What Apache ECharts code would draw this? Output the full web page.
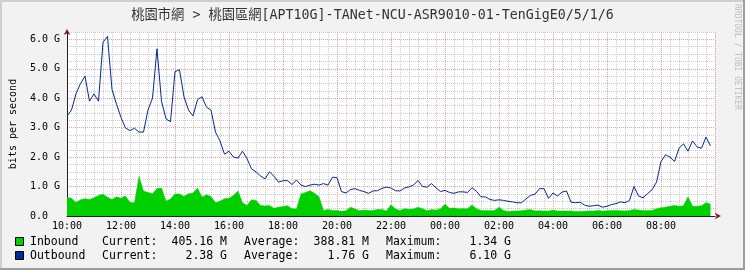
<!DOCTYPE html>
<html><head><meta charset="utf-8">
<script src="https://cdn.jsdelivr.net/npm/echarts@6/dist/echarts.min.js"></script>
<style>html,body{margin:0;padding:0;background:#F2F2F2}#c{width:745px;height:270px}</style>
</head><body><div id="c"></div>
<script>
const chartTitle = '桃園市網 > 桃園區網[APT10G]-TANet-NCU-ASR9010-01-TenGigE0/5/1/6';
const xTickLabels = ['10:00','12:00','14:00','16:00','18:00','20:00','22:00','00:00','02:00','04:00','06:00','08:00'];
const yTickLabels = ['0.0  ','1.0 G','2.0 G','3.0 G','4.0 G','5.0 G','6.0 G'];
const stepMinutes = 10;
const yAxisName = 'bits per second';
// values in G bits per second, one every 10 minutes from 10:00
const inbound = [
0.64,0.6,0.46,0.55,0.59,0.56,0.62,0.7,0.74,0.64,0.56,0.65,
0.6,0.68,0.46,0.45,1.34,0.85,0.8,0.76,0.93,0.95,0.5,0.58,
0.75,0.75,0.66,0.76,0.78,0.95,0.64,0.72,0.66,0.45,0.5,0.59,
0.6,0.7,0.85,0.45,0.36,0.55,0.53,0.36,0.34,0.36,0.26,0.3,
0.32,0.35,0.25,0.24,0.75,0.8,0.86,0.77,0.65,0.19,0.22,0.19,
0.19,0.16,0.18,0.3,0.24,0.18,0.2,0.19,0.19,0.22,0.22,0.17,
0.38,0.24,0.19,0.25,0.23,0.24,0.3,0.25,0.18,0.22,0.2,0.25,
0.4,0.26,0.27,0.25,0.25,0.25,0.37,0.25,0.19,0.19,0.18,0.19,
0.3,0.19,0.15,0.17,0.17,0.18,0.2,0.22,0.17,0.18,0.17,0.17,
0.2,0.17,0.17,0.17,0.17,0.15,0.15,0.16,0.17,0.17,0.19,0.17,
0.18,0.19,0.19,0.18,0.17,0.19,0.22,0.2,0.19,0.19,0.19,0.25,
0.28,0.3,0.33,0.36,0.33,0.35,0.65,0.33,0.33,0.35,0.45,0.41];
const outbound = [
3.39,3.6,4.15,4.5,4.75,3.9,4.15,3.9,5.9,6.1,4.3,3.8,
3.35,2.99,2.9,2.98,2.85,2.85,3.6,4.0,5.68,3.9,3.3,3.2,
4.9,4.97,4.05,3.6,3.4,3.95,4.05,3.7,3.6,2.85,2.55,2.1,
2.2,2.0,1.97,2.2,1.95,1.6,1.5,1.36,1.26,1.5,1.35,1.15,
1.2,1.2,1.07,1.22,1.05,1.0,1.05,1.08,1.05,1.1,1.05,1.32,
1.3,0.83,0.78,0.9,0.93,0.87,0.83,0.77,0.85,0.86,0.94,0.98,
0.95,0.86,0.85,0.95,0.99,1.05,1.21,1.0,0.98,1.1,0.96,0.83,
0.87,0.8,0.77,0.82,0.82,0.8,0.96,0.84,0.65,0.65,0.56,0.53,
0.55,0.53,0.5,0.48,0.45,0.45,0.58,0.7,0.74,0.93,0.93,0.6,
0.78,0.68,0.81,0.85,0.47,0.45,0.47,0.37,0.33,0.35,0.37,0.3,
0.33,0.39,0.42,0.48,0.45,0.53,1.0,0.68,0.62,0.76,0.89,1.15,
1.85,2.08,2.0,1.85,2.3,2.45,2.2,2.55,2.35,2.3,2.68,2.38];
const legendNames = ['Inbound','Outbound'];
const legendColors = ['#00CF00','#002A97'];
const legendCurrent = ['405.16 M','2.38 G'];
const legendAverage = ['388.81 M','1.76 G'];
const legendMaximum = ['1.34 G','6.10 G'];
const watermark = 'RRDTOOL / TOBI OETIKER';

const MONO = '"DejaVu Sans Mono", "Noto Sans CJK TC", monospace';
const minorGrid = 'rgba(143,143,143,0.45)';
const majorGrid = 'rgba(222,79,79,0.55)';
const arrowColor = '#801F1F';
const inData = inbound.map((v,i)=>[i*stepMinutes, v]);
const outData = outbound.map((v,i)=>[i*stepMinutes, v]);

const graphic = [
  {type:'rect', shape:{x:0,y:0,width:745,height:2}, style:{fill:'#CFCFCF'}, silent:true},
  {type:'rect', shape:{x:0,y:0,width:2,height:270}, style:{fill:'#CFCFCF'}, silent:true},
  {type:'rect', shape:{x:0,y:268,width:745,height:2}, style:{fill:'#9E9E9E'}, silent:true},
  {type:'rect', shape:{x:743,y:0,width:2,height:270}, style:{fill:'#9E9E9E'}, silent:true},
  {type:'text', x:741, y:4, rotation:-Math.PI/2, style:{text:watermark, fill:'#BDBDBD', font:'8px "DejaVu Sans Mono"', textAlign:'left', textVerticalAlign:'top'}, silent:true}
];
legendNames.forEach((n,k)=>{
  const cy = 242 + k*14;
  const f = '11.5px "DejaVu Sans Mono"';
  graphic.push({type:'rect', shape:{x:15.5,y:cy-4.5,width:8,height:8}, style:{fill:legendColors[k], stroke:'#000', lineWidth:1}});
  graphic.push({type:'text', x:30, y:cy, style:{text:n, font:f, fill:'#000', textVerticalAlign:'middle'}});
  graphic.push({type:'text', x:102, y:cy, style:{text:'Current:', font:f, fill:'#000', textVerticalAlign:'middle'}});
  graphic.push({type:'text', x:227, y:cy, style:{text:legendCurrent[k], font:f, fill:'#000', textAlign:'right', textVerticalAlign:'middle'}});
  graphic.push({type:'text', x:244, y:cy, style:{text:'Average:', font:f, fill:'#000', textVerticalAlign:'middle'}});
  graphic.push({type:'text', x:369, y:cy, style:{text:legendAverage[k], font:f, fill:'#000', textAlign:'right', textVerticalAlign:'middle'}});
  graphic.push({type:'text', x:386, y:cy, style:{text:'Maximum:', font:f, fill:'#000', textVerticalAlign:'middle'}});
  graphic.push({type:'text', x:511, y:cy, style:{text:legendMaximum[k], font:f, fill:'#000', textAlign:'right', textVerticalAlign:'middle'}});
});

const arrowOnlyAxis = (extra) => Object.assign({
  type:'value', gridIndex:0,
  axisLine:{show:true, onZero:false, lineStyle:{color:arrowColor, width:0}, symbol:['none','arrow'], symbolSize:[5,6]},
  axisTick:{show:false}, axisLabel:{show:false}, splitLine:{show:false}
}, extra);

const chart = echarts.init(document.getElementById('c'), null, {renderer:'canvas', width:745, height:270});
chart.setOption({
  backgroundColor:'#F2F2F2',
  animation:false,
  title:{text:chartTitle, left:'center', top:4, textStyle:{fontFamily:MONO, fontSize:13.3, fontWeight:'normal', color:'#333'}},
  grid:{left:64, top:32, width:651, height:184, show:true, backgroundColor:'#FFFFFF', borderWidth:0},
  xAxis:[{type:'value', min:0, max:1440, interval:20, position:'bottom',
    axisLine:{show:true, onZero:false, lineStyle:{color:'#1F1F1F', width:1}},
    axisTick:{show:false},
    axisLabel:{formatter:v => (v%120===0 && v<1440) ? xTickLabels[v/120] : '', fontFamily:MONO, fontSize:10, color:'#000', margin:5},
    splitLine:{show:true, lineStyle:{color:[majorGrid,minorGrid,minorGrid,minorGrid,minorGrid,minorGrid], type:[1,1], width:1}}
  }, arrowOnlyAxis({min:0, max:1440, position:'bottom', axisLine:{show:true, onZero:false, lineStyle:{color:arrowColor, width:0}, symbol:['none','arrow'], symbolSize:[5,6], symbolOffset:[0,6]}})],
  yAxis:[{type:'value', min:0, max:6.25, interval:0.25, position:'left',
    name:yAxisName, nameLocation:'middle', nameGap:49, nameRotate:90,
    nameTextStyle:{fontFamily:MONO, fontSize:10, color:'#000'},
    axisLine:{show:true, onZero:false, lineStyle:{color:'#1F1F1F', width:1}},
    axisTick:{show:false},
    axisLabel:{formatter:v => Math.abs(v-Math.round(v))<1e-6 ? (yTickLabels[Math.round(v)]||'') : '', fontFamily:MONO, fontSize:10, color:'#000', margin:7},
    splitLine:{show:true, lineStyle:{color:[majorGrid,minorGrid,minorGrid,minorGrid], type:[1,1], width:1}}
  }, arrowOnlyAxis({min:0, max:6.25, position:'left', axisLine:{show:true, onZero:false, lineStyle:{color:arrowColor, width:0}, symbol:['none','arrow'], symbolSize:[5,6], symbolOffset:[0,3]}})],
  series:[
    {type:'line', name:legendNames[0], data:inData, showSymbol:false, symbol:'none', xAxisIndex:0, yAxisIndex:0,
     lineStyle:{width:0.5, color:legendColors[0]}, itemStyle:{color:legendColors[0]}, areaStyle:{color:legendColors[0], opacity:1}, z:2},
    {type:'line', name:legendNames[1], data:outData, showSymbol:false, symbol:'none', xAxisIndex:0, yAxisIndex:0,
     lineStyle:{width:1, color:legendColors[1]}, itemStyle:{color:legendColors[1]}, z:3}
  ],
  graphic:graphic
});
</script></body></html>
